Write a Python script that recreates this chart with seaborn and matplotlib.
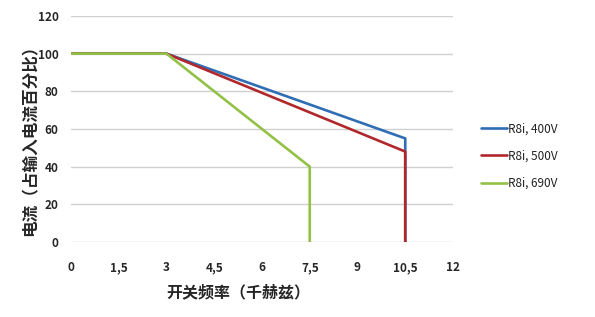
import matplotlib
matplotlib.use("Agg")
import matplotlib.pyplot as plt
import seaborn as sns
import pandas as pd

series_names = ["R8i, 400V", "R8i, 500V", "R8i, 690V"]
x_400 = [0, 3, 10.5, 10.5]
y_400 = [100, 100, 55, 0]
x_500 = [0, 3, 10.5, 10.5]
y_500 = [100, 100, 48, 0]
x_690 = [0, 3, 7.5, 7.5]
y_690 = [100, 100, 40, 0]
colors = ["#2F6EB5", "#B0282C", "#93C047"]
x_ticks = [0, 1.5, 3, 4.5, 6, 7.5, 9, 10.5, 12]
x_tick_labels = ["0", "1,5", "3", "4,5", "6", "7,5", "9", "10,5", "12"]
y_ticks = [0, 20, 40, 60, 80, 100, 120]
x_label = "开关频率（千赫兹）"
y_label = "电流（占输入电流百分比）"

rows = []
for name, xs, ys in zip(series_names, [x_400, x_500, x_690], [y_400, y_500, y_690]):
    for i, (a, b) in enumerate(zip(xs, ys)):
        rows.append({"series": name, "order": i, "x": a, "y": b})
df = pd.DataFrame(rows)

sns.set_theme(style="white")
plt.rcParams['font.family'] = ['Noto Sans CJK SC', 'DejaVu Sans']

fig = plt.figure(figsize=(5.95, 3.17), dpi=100)
ax = fig.add_axes([71/595, 75/317, 382/595, 226/317])

for y in y_ticks:
    ax.axhline(y, color="#D0D0D0", lw=1.0, zorder=0)

sns.lineplot(data=df, x="x", y="y", hue="series", hue_order=series_names,
             palette=colors, sort=False, estimator=None, units="series",
             linewidth=1.9, ax=ax, legend=True)

ax.set_xlim(0, 12)
ax.set_ylim(0, 120)
ax.set_xticks(x_ticks)
ax.set_xticklabels(x_tick_labels, fontsize=8.5, fontweight="bold")
ax.set_yticks(y_ticks)
ax.set_yticklabels([str(v) for v in y_ticks], fontsize=8.5, fontweight="bold")
ax.tick_params(axis="x", length=0, pad=14)
ax.tick_params(axis="y", length=0, pad=9)
for s in ax.spines.values():
    s.set_visible(False)
ax.set_xlabel("")
ax.set_ylabel("")
fig.text(238/595, 1 - 292/317, x_label, ha="center", va="center",
         fontsize=11.5, fontweight="bold")
fig.text(30/595, 1 - 136/317, y_label, ha="center", va="center",
         rotation=90, fontsize=12, fontweight="bold")

leg = ax.legend(title=None, loc="center left", bbox_to_anchor=(470/595, 1 - 156/317),
                bbox_transform=fig.transFigure, frameon=False, fontsize=8.5,
                handlelength=2.2, handletextpad=0.1, labelspacing=1.2)
for t in leg.get_texts():
    t.set_color("#222222")

fig.savefig("out.png", dpi=100)
